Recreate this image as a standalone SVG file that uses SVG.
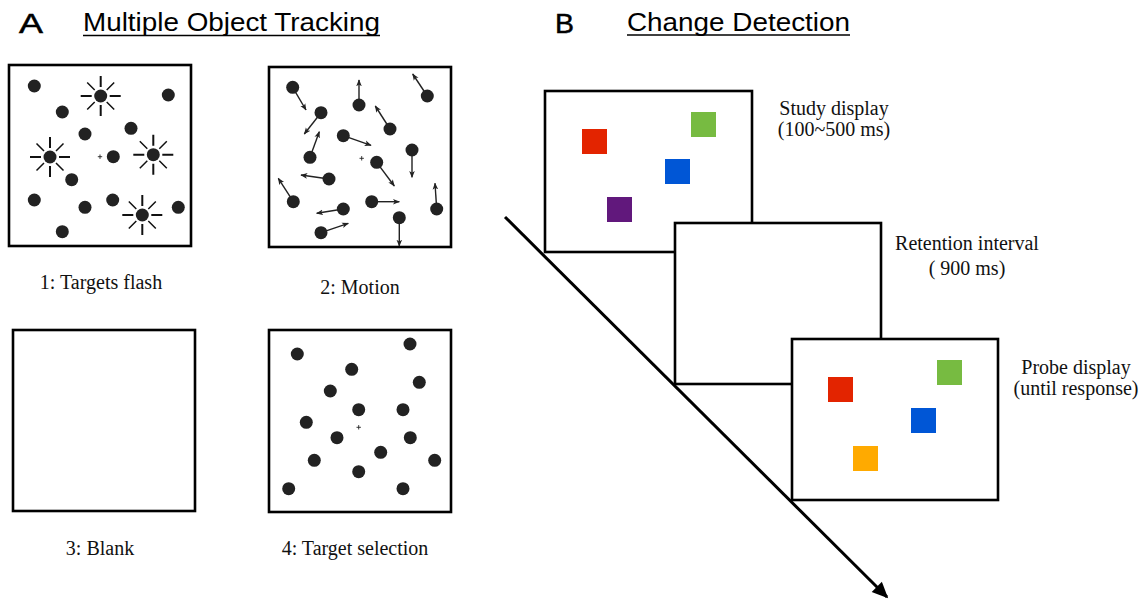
<svg xmlns="http://www.w3.org/2000/svg" width="1145" height="600" viewBox="0 0 1145 600">
  <style>
    .frame { fill: #fff; stroke: #000; stroke-width: 2.6; }
    .dot { fill: #222; }
    .cross { stroke: #222; stroke-width: 0.9; fill: none; }
    .ray { stroke: #111; fill: none; }
    .mv { stroke: #222; stroke-width: 1.4; fill: none; marker-end: url(#mvhead); }
    .head { font-size: 25px; fill: #000; }
    .letter { font-size: 27px; fill: #000; stroke: #000; stroke-width: 0.5; }
    .lbl { font-size: 20px; fill: #111; text-anchor: middle; }
    .uline { stroke: #000; stroke-width: 1.6; }
    .timeline { stroke: #000; stroke-width: 3; fill: none; marker-end: url(#timehead); }
  </style>
  <defs>
    <marker id="mvhead" viewBox="0 0 10 10" refX="9" refY="5" markerUnits="userSpaceOnUse" markerWidth="7" markerHeight="7" orient="auto">
      <path d="M0,1 L10,5 L0,9 L2.5,5 z" fill="#222"/>
    </marker>
    <marker id="timehead" viewBox="0 0 10 10" refX="9" refY="5" markerUnits="userSpaceOnUse" markerWidth="20" markerHeight="16" orient="auto">
      <path d="M0,0.5 L10,5 L0,9.5 z" fill="#000"/>
    </marker>
    <g id="burst">
      <path class="ray" stroke-width="2" d="M0,-9V-20 M0,9V20 M-9,0H-20 M9,0H20"/>
      <path class="ray" stroke-width="1.5" d="M6,-6L13.5,-13.5 M-6,-6L-13.5,-13.5 M6,6L13.5,13.5 M-6,6L-13.5,13.5"/>
    </g>
    <path id="plus" class="cross" d="M-2.2,0H2.2 M0,-2.2V2.2"/>
  </defs>

  <!-- Section headings -->
  <g id="heading-a" font-family="Liberation Sans, Arial, sans-serif">
    <text class="letter" x="19" y="33" textLength="24" lengthAdjust="spacingAndGlyphs">A</text>
    <text class="head" x="83" y="31" textLength="297" lengthAdjust="spacingAndGlyphs">Multiple Object Tracking</text>
    <line class="uline" x1="83" y1="35.5" x2="380" y2="35.5"/>
  </g>
  <g id="heading-b" font-family="Liberation Sans, Arial, sans-serif">
    <text class="letter" x="555" y="33" textLength="19" lengthAdjust="spacingAndGlyphs">B</text>
    <text class="head" x="627" y="31" textLength="223" lengthAdjust="spacingAndGlyphs">Change Detection</text>
    <line class="uline" x1="627" y1="35" x2="850" y2="35"/>
  </g>

  <!-- MOT step 1: targets flash -->
  <g id="mot-flash">
    <rect class="frame" x="9" y="65" width="182" height="181"/>
    <use href="#burst" x="100.7" y="96"/>
    <use href="#burst" x="50" y="157"/>
    <use href="#burst" x="153.3" y="154.7"/>
    <use href="#burst" x="142.3" y="215"/>
    <g class="dot">
      <circle cx="34.3" cy="86" r="6.5"/>
      <circle cx="100.7" cy="96" r="6.5"/>
      <circle cx="168.3" cy="95" r="6.5"/>
      <circle cx="62.3" cy="112" r="6.5"/>
      <circle cx="85" cy="134" r="6.5"/>
      <circle cx="131" cy="128.3" r="6.5"/>
      <circle cx="50" cy="157" r="6.5"/>
      <circle cx="113.3" cy="156.7" r="6.5"/>
      <circle cx="153.3" cy="154.7" r="6.5"/>
      <circle cx="71.7" cy="179.7" r="6.5"/>
      <circle cx="34.3" cy="200" r="6.5"/>
      <circle cx="85" cy="207.3" r="6.5"/>
      <circle cx="112.7" cy="200" r="6.5"/>
      <circle cx="142.3" cy="215" r="6.5"/>
      <circle cx="178.3" cy="207.3" r="6.5"/>
      <circle cx="62.3" cy="231.7" r="6.5"/>
    </g>
    <use href="#plus" x="100" y="156.7"/>
    <text class="lbl" font-family="Liberation Serif, DejaVu Serif, serif" x="101" y="289">1: Targets flash</text>
  </g>

  <!-- MOT step 2: motion -->
  <g id="mot-motion">
    <rect class="frame" x="269" y="67" width="182" height="180"/>
    <g>
      <line class="mv" x1="292.7" y1="87.3" x2="306" y2="110"/>
      <line class="mv" x1="359" y1="105" x2="359" y2="80"/>
      <line class="mv" x1="427.3" y1="96" x2="412.7" y2="74"/>
      <line class="mv" x1="321" y1="112.7" x2="304.3" y2="134"/>
      <line class="mv" x1="390" y1="129" x2="375.3" y2="106"/>
      <line class="mv" x1="343.3" y1="135.7" x2="371" y2="145.3"/>
      <line class="mv" x1="310" y1="157.3" x2="319.3" y2="131.7"/>
      <line class="mv" x1="412" y1="150" x2="412" y2="177.3"/>
      <line class="mv" x1="376.7" y1="162.3" x2="394.3" y2="186"/>
      <line class="mv" x1="329" y1="179" x2="301" y2="175"/>
      <line class="mv" x1="293.3" y1="201.7" x2="278.3" y2="178.3"/>
      <line class="mv" x1="371.7" y1="201.7" x2="399.3" y2="201.7"/>
      <line class="mv" x1="436.7" y1="209" x2="435" y2="183.3"/>
      <line class="mv" x1="343.3" y1="209" x2="316.7" y2="213.3"/>
      <line class="mv" x1="399.3" y1="217.7" x2="399.3" y2="246"/>
      <line class="mv" x1="321" y1="232.7" x2="348.3" y2="223.3"/>
    </g>
    <g class="dot">
      <circle cx="292.7" cy="87.3" r="6.5"/>
      <circle cx="359" cy="105" r="6.5"/>
      <circle cx="427.3" cy="96" r="6.5"/>
      <circle cx="321" cy="112.7" r="6.5"/>
      <circle cx="390" cy="129" r="6.5"/>
      <circle cx="343.3" cy="135.7" r="6.5"/>
      <circle cx="310" cy="157.3" r="6.5"/>
      <circle cx="412" cy="150" r="6.5"/>
      <circle cx="376.7" cy="162.3" r="6.5"/>
      <circle cx="329" cy="179" r="6.5"/>
      <circle cx="293.3" cy="201.7" r="6.5"/>
      <circle cx="371.7" cy="201.7" r="6.5"/>
      <circle cx="436.7" cy="209" r="6.5"/>
      <circle cx="343.3" cy="209" r="6.5"/>
      <circle cx="399.3" cy="217.7" r="6.5"/>
      <circle cx="321" cy="232.7" r="6.5"/>
    </g>
    <use href="#plus" x="361.7" y="158.3"/>
    <text class="lbl" font-family="Liberation Serif, DejaVu Serif, serif" x="360" y="294">2: Motion</text>
  </g>

  <!-- MOT step 3: blank -->
  <g id="mot-blank">
    <rect class="frame" x="13" y="330" width="182" height="181"/>
    <text class="lbl" font-family="Liberation Serif, DejaVu Serif, serif" x="100" y="555">3: Blank</text>
  </g>

  <!-- MOT step 4: target selection -->
  <g id="mot-select">
    <rect class="frame" x="269" y="330" width="182" height="182"/>
    <g class="dot">
      <circle cx="297.3" cy="354" r="6.5"/>
      <circle cx="410" cy="344" r="6.5"/>
      <circle cx="351.7" cy="369.3" r="6.5"/>
      <circle cx="419.3" cy="382.3" r="6.5"/>
      <circle cx="330.3" cy="391" r="6.5"/>
      <circle cx="358.7" cy="409.7" r="6.5"/>
      <circle cx="403" cy="409.7" r="6.5"/>
      <circle cx="306.3" cy="422.3" r="6.5"/>
      <circle cx="337" cy="437.7" r="6.5"/>
      <circle cx="410.3" cy="437.7" r="6.5"/>
      <circle cx="380.7" cy="452.3" r="6.5"/>
      <circle cx="314.3" cy="460.3" r="6.5"/>
      <circle cx="434.7" cy="460.3" r="6.5"/>
      <circle cx="358.7" cy="471.7" r="6.5"/>
      <circle cx="288.7" cy="488.7" r="6.5"/>
      <circle cx="403" cy="488.7" r="6.5"/>
    </g>
    <use href="#plus" x="358.7" y="427.3"/>
    <text class="lbl" font-family="Liberation Serif, DejaVu Serif, serif" x="355" y="555">4: Target selection</text>
  </g>

  <!-- Change detection time axis -->
  <g id="connectors">
    <line class="timeline" x1="505" y1="217" x2="887" y2="597"/>
  </g>

  <!-- CD study display -->
  <g id="cd-study" font-family="Liberation Serif, DejaVu Serif, serif">
    <rect class="frame" x="545" y="91" width="207" height="161"/>
    <rect x="582" y="129" width="25" height="25" fill="#e32400"/>
    <rect x="691" y="112" width="25" height="25" fill="#77bb41"/>
    <rect x="665" y="159" width="25" height="25" fill="#0056d6"/>
    <rect x="607" y="197" width="25" height="25" fill="#61187c"/>
    <text class="lbl" x="834" y="115">Study display</text>
    <text class="lbl" x="834" y="136">(100~500 ms)</text>
  </g>

  <!-- CD retention interval -->
  <g id="cd-retention" font-family="Liberation Serif, DejaVu Serif, serif">
    <rect class="frame" x="675" y="223" width="206" height="161"/>
    <text class="lbl" x="967" y="250">Retention interval</text>
    <text class="lbl" x="967" y="275">( 900 ms)</text>
  </g>

  <!-- CD probe display -->
  <g id="cd-probe" font-family="Liberation Serif, DejaVu Serif, serif">
    <rect class="frame" x="792" y="339" width="206" height="161"/>
    <rect x="828" y="377" width="25" height="25" fill="#e32400"/>
    <rect x="937" y="360" width="25" height="25" fill="#77bb41"/>
    <rect x="911" y="408" width="25" height="25" fill="#0056d6"/>
    <rect x="853" y="446" width="25" height="25" fill="#ffaa00"/>
    <text class="lbl" x="1076" y="374">Probe display</text>
    <text class="lbl" x="1076" y="395">(until response)</text>
  </g>
</svg>
